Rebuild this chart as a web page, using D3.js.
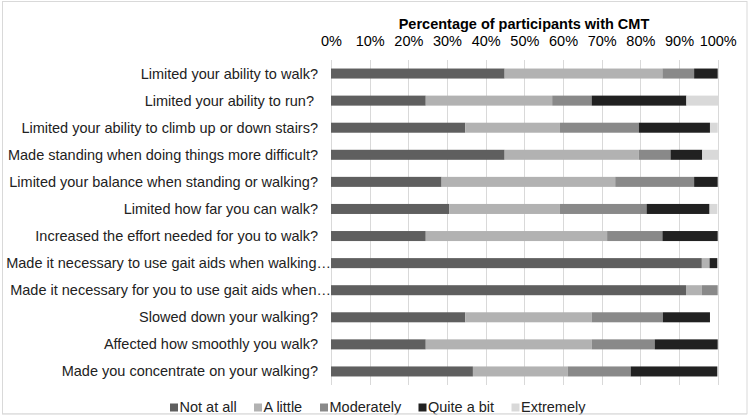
<!DOCTYPE html>
<html><head><meta charset="utf-8">
<script src="https://cdn.jsdelivr.net/npm/d3@7"></script>
<style>
html,body{margin:0;padding:0;background:#fff;}
svg{display:block;font-family:"Liberation Sans",Arial,sans-serif;}
</style></head>
<body><svg id="c" width="749" height="417"></svg>
<script>
const categories = [
  "Limited your ability to walk?",
  "Limited your ability to run? ",
  "Limited your ability to climb up or down stairs?",
  "Made standing when doing things more difficult?",
  "Limited your balance when standing or walking?",
  "Limited how far you can walk?",
  "Increased the effort needed for you to walk?",
  "Made it necessary to use gait aids when walking…",
  "Made it necessary for you to use gait aids when…",
  "Slowed down your walking?",
  "Affected how smoothly you walk?",
  "Made you concentrate on your walking?"
];
const seriesNames = ["Not at all","A little","Moderately","Quite a bit","Extremely"];
const notAtAll   = [44.9, 24.5, 34.7, 44.9, 28.6, 30.6, 24.5, 95.9, 91.8, 34.7, 24.5, 36.7];
const aLittle    = [40.8, 32.7, 24.5, 34.7, 44.9, 28.6, 46.9,  2.0,  4.1, 32.7, 42.9, 24.5];
const moderately = [ 8.2, 10.2, 20.4,  8.2, 20.4, 22.4, 14.3,  0.0,  4.1, 18.4, 16.3, 16.3];
const quiteABit  = [ 6.1, 24.5, 18.4,  8.2,  6.1, 16.3, 14.3,  2.0,  0.0, 12.2, 16.3, 22.4];
const extremely  = [ 0.0,  8.2,  2.0,  4.1,  0.0,  2.0,  0.0,  0.0,  0.0,  0.0,  0.0,  0.0];
const tickValues = [0,10,20,30,40,50,60,70,80,90,100];
const title = "Percentage of participants with CMT";
const colors = ["#5f5f5f","#b2b2b2","#898989","#212121","#d9d9d9"];

const series = [notAtAll,aLittle,moderately,quiteABit,extremely];
const rows = categories.map((c,i)=>{
  const o={cat:c}; seriesNames.forEach((s,j)=>o[s]=series[j][i]); return o;
});
const stacked = d3.stack().keys(seriesNames)(rows);

const svg = d3.select("#c");
const x = d3.scaleLinear().domain([0,100]).range([331,717.7]);
const y = d3.scaleBand().domain(categories).range([60,385]).paddingInner(0.63).paddingOuter(0.315);

// frame
svg.append("rect").attr("x",2.5).attr("y",1.5).attr("width",744.5).attr("height",412.5)
  .attr("fill","#fff").attr("stroke","#d9d9d9");

// gridlines
svg.append("g").selectAll("line").data(tickValues).join("line")
  .attr("x1",d=>Math.round(x(d))+0.5).attr("x2",d=>Math.round(x(d))+0.5)
  .attr("y1",60).attr("y2",385).attr("stroke","#d9d9d9").attr("stroke-width",1);

// bars
svg.append("g").selectAll("g").data(stacked).join("g")
  .attr("fill",(d,i)=>colors[i])
  .selectAll("rect").data(d=>d).join("rect")
  .attr("x",d=>x(d[0])).attr("width",d=>Math.max(0,x(d[1])-x(d[0])))
  .attr("y",d=>y(d.data.cat)).attr("height",y.bandwidth());

// top axis
const ax = d3.axisTop(x).tickValues(tickValues).tickFormat(d=>d+"%").tickSize(0).tickPadding(0);
const g = svg.append("g").attr("transform","translate(0,46)").call(ax);
g.select(".domain").remove();
g.selectAll("text").attr("font-size","14.5px").attr("fill","#000").attr("font-family","Liberation Sans, Arial, sans-serif").attr("dy",0);

// title
svg.append("text").attr("x",524).attr("y",28.5).attr("text-anchor","middle")
  .attr("font-weight","bold").attr("font-size","14.5px").attr("fill","#000").text(title);

// category labels
svg.append("g").selectAll("text").data(categories).join("text")
  .attr("x",(d,i)=>d.endsWith("…")?331:318)
  .attr("y",d=>y(d)+y.bandwidth()/2+5)
  .attr("text-anchor","end").attr("font-size","14.5px").attr("fill","#222")
  .style("white-space","pre").text(d=>d);

// legend
const legX = [170,254,320,418.5,511.5];
const leg = svg.append("g").selectAll("g").data(seriesNames).join("g")
  .attr("transform",(d,i)=>`translate(${legX[i]},0)`);
leg.append("rect").attr("x",0).attr("y",403.5).attr("width",8).attr("height",8).attr("fill",(d,i)=>colors[i]);
leg.append("text").attr("x",9.5).attr("y",411.5).attr("font-size","14.5px").attr("fill","#222").text(d=>d);

// clip bottom beyond frame
svg.append("rect").attr("x",0).attr("y",414.5).attr("width",749).attr("height",3).attr("fill","#fff");
svg.append("line").attr("x1",2).attr("x2",747).attr("y1",414).attr("y2",414).attr("stroke","#d9d9d9");
</script></body></html>
